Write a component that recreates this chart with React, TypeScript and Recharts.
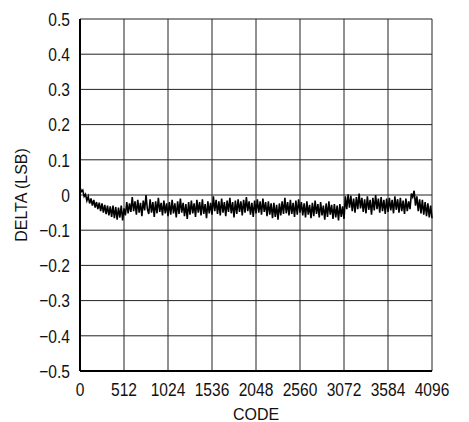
import React from "react";
import { LineChart, Line, XAxis, YAxis, CartesianGrid } from "recharts";

const xTicks = [0, 512, 1024, 1536, 2048, 2560, 3072, 3584, 4096];
const yTicks = [-0.5, -0.4, -0.3, -0.2, -0.1, 0, 0.1, 0.2, 0.3, 0.4, 0.5];
const codeStep = 16;

const delta: number[] = [
  // 0 – 512
  0.022, 0.010, 0.014, -0.004, 0.002, -0.016, -0.004, -0.024, -0.010, -0.030, -0.014,
  -0.036, -0.020, -0.040, -0.022, -0.046, -0.024, -0.050, -0.028, -0.054, -0.030, -0.058,
  -0.032, -0.062, -0.030, -0.066, -0.034, -0.070, -0.036, -0.064, -0.030, -0.072, -0.038,
  // 512 – 1024
  -0.058, -0.020, -0.052, -0.024, -0.048, -0.006, -0.046, -0.018, -0.056, -0.014, -0.050,
  -0.022, -0.060, -0.016, -0.044, 0.000, -0.040, -0.054, -0.012, -0.050, -0.020, -0.062,
  -0.018, -0.052, -0.008, -0.048, -0.022, -0.058, -0.016, -0.052, -0.024, -0.060,
  // 1024 – 1536
  -0.020, -0.056, -0.014, -0.052, -0.024, -0.064, -0.018, -0.054, -0.010, -0.050, -0.022,
  -0.060, -0.026, -0.068, -0.020, -0.056, -0.016, -0.052, -0.024, -0.062, -0.014, -0.050,
  -0.020, -0.058, -0.012, -0.054, -0.026, -0.066, -0.018, -0.052, -0.022, -0.056,
  // 1536 – 2048
  -0.004, -0.046, -0.014, -0.054, -0.018, -0.058, -0.010, -0.050, -0.020, -0.060, -0.016,
  -0.048, -0.008, -0.052, -0.020, -0.064, -0.016, -0.054, -0.012, -0.048, -0.018, -0.058,
  -0.014, -0.050, -0.006, -0.046, -0.018, -0.056, -0.022, -0.062, -0.016, -0.052,
  // 2048 – 2560
  -0.012, -0.050, -0.018, -0.056, -0.010, -0.048, -0.020, -0.060, -0.018, -0.056, -0.024,
  -0.066, -0.022, -0.062, -0.028, -0.070, -0.024, -0.058, -0.018, -0.054, -0.008, -0.052,
  -0.020, -0.058, -0.014, -0.054, -0.022, -0.062, -0.016, -0.056, -0.012, -0.050,
  // 2560 – 3072
  -0.020, -0.058, -0.024, -0.064, -0.018, -0.056, -0.028, -0.066, -0.022, -0.060, -0.016,
  -0.054, -0.026, -0.064, -0.020, -0.058, -0.030, -0.070, -0.024, -0.062, -0.018, -0.056,
  -0.028, -0.068, -0.026, -0.064, -0.030, -0.072, -0.026, -0.062, -0.032, -0.068,
  // 3072 – 3584
  -0.004, -0.040, 0.002, -0.036, -0.002, -0.046, -0.010, -0.050, -0.006, -0.040, 0.004,
  -0.038, -0.008, -0.048, -0.012, -0.052, -0.004, -0.042, -0.014, -0.056, -0.008, -0.044,
  0.000, -0.040, -0.010, -0.050, -0.006, -0.046, -0.014, -0.054, -0.010, -0.048,
  // 3584 – 4096
  -0.008, -0.044, -0.014, -0.052, -0.004, -0.042, -0.012, -0.050, -0.008, -0.046, -0.016,
  -0.054, -0.010, -0.046, -0.018, -0.040, 0.004, -0.006, 0.012, -0.030, -0.004, -0.046,
  -0.012, -0.052, -0.014, -0.056, -0.020, -0.060, -0.024, -0.064, -0.030, -0.066,
];

const data = delta.map((d, i) => ({ code: i * codeStep, delta: d }));

const font = "'Liberation Sans', Arial, sans-serif";
const squeeze = 0.82;

const fmtY = (v: number) => {
  if (Math.abs(v) < 1e-9) return "0";
  const s = Math.abs(v).toFixed(1);
  return v < 0 ? "\u2212" + s : s;
};

const XTick = (props: any) => {
  const { x, y, payload } = props;
  return (
    <text
      transform={`translate(${x},${y}) scale(${squeeze},1)`}
      textAnchor="middle"
      dy="0.71em"
      fill="#111"
      fontSize={19}
      fontFamily={font}
    >
      {String(payload.value)}
    </text>
  );
};

const YTick = (props: any) => {
  const { x, y, payload } = props;
  return (
    <text
      transform={`translate(${x},${y}) scale(${squeeze},1)`}
      textAnchor="end"
      dy="0.355em"
      fill="#111"
      fontSize={19}
      fontFamily={font}
    >
      {fmtY(payload.value)}
    </text>
  );
};

export default function App() {
  return (
    <div style={{ width: 461, height: 414, background: "#fff" }}>
      <LineChart
        width={461}
        height={414}
        data={data}
        margin={{ top: 11, right: 37, bottom: 21, left: 22 }}
      >
        <CartesianGrid stroke="#222" strokeWidth={1} horizontalValues={yTicks} verticalValues={xTicks} />
        <XAxis
          dataKey="code"
          type="number"
          domain={[0, 4096]}
          ticks={xTicks}
          interval={0}
          height={30}
          tickLine={false}
          axisLine={{ stroke: "#000", strokeWidth: 2 }}
          tickMargin={6}
          tick={<XTick />}
          label={{ value: "CODE", position: "bottom", offset: 8, fill: "#111", fontSize: 16, fontFamily: font }}
        />
        <YAxis
          dataKey="delta"
          type="number"
          domain={[-0.5, 0.5]}
          ticks={yTicks}
          interval={0}
          width={50}
          tickLine={false}
          axisLine={{ stroke: "#000", strokeWidth: 2 }}
          tickMargin={4}
          tick={<YTick />}
          label={{ value: "DELTA (LSB)", angle: -90, position: "insideLeft", offset: -9, fill: "#111", fontSize: 16, fontFamily: font, style: { textAnchor: "middle" } }}
        />
        <Line
          type="linear"
          dataKey="delta"
          stroke="#000"
          strokeWidth={1.6}
          dot={false}
          isAnimationActive={false}
        />
      </LineChart>
    </div>
  );
}
